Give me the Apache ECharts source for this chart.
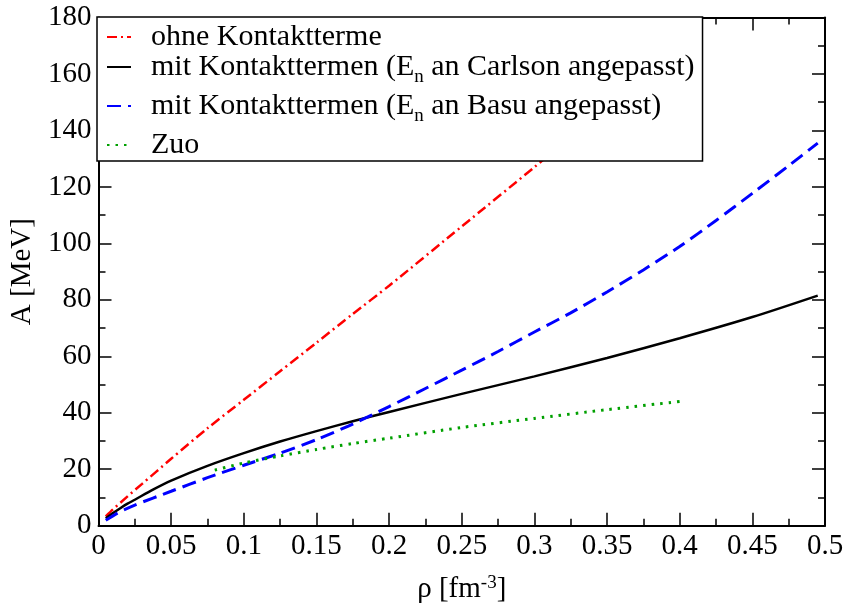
<!DOCTYPE html>
<html>
<head>
<meta charset="utf-8">
<script src="https://cdn.jsdelivr.net/npm/echarts@6/dist/echarts.min.js"></script>
<style>
  html, body { margin: 0; padding: 0; background: #ffffff; }
  #chart { width: 847px; height: 605px; }
</style>
</head>
<body>
<div id="chart"></div>
<script>
// Symmetry energy A versus density rho
const rhoOhne = [0.005, 0.01, 0.02, 0.03, 0.05, 0.075, 0.1, 0.125, 0.15, 0.175, 0.2, 0.25, 0.3, 0.35, 0.38];
const aOhne   = [3.3, 5.8, 10.4, 14.8, 23.7, 34.5, 44.6, 54.7, 64.8, 75.0, 85.0, 106.0, 127.0, 148.5, 161.5];

const rhoCarlson = [0.005, 0.01, 0.015, 0.02, 0.025, 0.0375, 0.05, 0.075, 0.1, 0.125, 0.15, 0.175, 0.2, 0.25, 0.3, 0.35, 0.4, 0.45, 0.495];
const aCarlson   = [2.6, 4.5, 6.2, 7.8, 9.2, 12.8, 16.0, 21.2, 25.7, 29.8, 33.5, 37.0, 40.3, 46.7, 52.9, 59.4, 66.4, 73.9, 81.5];

const rhoBasu = [0.005, 0.0125, 0.025, 0.05, 0.075, 0.1, 0.125, 0.15, 0.175, 0.2, 0.225, 0.25, 0.275, 0.3, 0.325, 0.35, 0.375, 0.4, 0.425, 0.45, 0.475, 0.495];
const aBasu   = [1.9, 4.3, 7.3, 12.2, 17.0, 21.4, 25.7, 30.5, 36.0, 42.2, 48.6, 55.1, 61.7, 68.6, 75.4, 82.8, 90.6, 98.9, 108.1, 117.7, 127.5, 135.5];

const rhoZuo = [0.08, 0.1, 0.125, 0.15, 0.175, 0.2, 0.25, 0.3, 0.35, 0.4];
const aZuo   = [19.7, 22.2, 24.7, 27.0, 29.1, 31.0, 34.8, 38.0, 41.1, 44.0];

const seriesNames = [
  'ohne Kontaktterme',
  'mit Kontakttermen (E_n an Carlson angepasst)',
  'mit Kontakttermen (E_n an Basu angepasst)',
  'Zuo'
];

const xTicks = { min: 0, max: 0.5, step: 0.05 };
const yTicks = { min: 0, max: 180, step: 20 };

const FONT = 'Liberation Serif';

function pairs(xs, ys) {
  return xs.map((x, i) => [x, ys[i]]);
}

// legend entries: "E_n" is rendered with a lowered subscript
function legendText(name) {
  const parts = name.split('_');
  if (parts.length === 1) return '{m|' + name + '}';
  const sub = parts[1].charAt(0);
  const rest = parts[1].slice(1);
  return '{m|' + parts[0] + '}{s|' + sub + '}{m|' + rest + '}';
}

const axisLineStyle = { color: '#000', width: 2 };

function mirrorX(position, showLabels) {
  return {
    type: 'value',
    position: position,
    min: xTicks.min,
    max: xTicks.max,
    interval: xTicks.step,
    axisLine: { show: true, onZero: false, lineStyle: axisLineStyle },
    axisTick: { show: true, inside: true, length: 13, lineStyle: { color: '#000', width: 1.5 } },
    minorTick: { show: true, splitNumber: 2, length: 7, lineStyle: { color: '#000', width: 1.5 } },
    splitLine: { show: false },
    minorSplitLine: { show: false },
    axisLabel: {
      show: showLabels,
      margin: 6,
      color: '#000',
      fontFamily: FONT,
      fontSize: 29,
      formatter: v => String(parseFloat(v.toFixed(2)))
    }
  };
}

function mirrorY(position, showLabels) {
  return {
    type: 'value',
    position: position,
    min: yTicks.min,
    max: yTicks.max,
    interval: yTicks.step,
    axisLine: { show: true, onZero: false, lineStyle: axisLineStyle },
    axisTick: { show: true, inside: true, length: 13, lineStyle: { color: '#000', width: 1.5 } },
    minorTick: { show: true, splitNumber: 2, length: 7, lineStyle: { color: '#000', width: 1.5 } },
    splitLine: { show: false },
    minorSplitLine: { show: false },
    axisLabel: {
      show: showLabels,
      margin: 7,
      color: '#000',
      fontFamily: FONT,
      fontSize: 29
    }
  };
}

const xBottom = mirrorX('bottom', true);
xBottom.name = '{a|ρ [fm}{s|-3}{a|]}';
xBottom.nameLocation = 'middle';
xBottom.nameGap = 49;
xBottom.nameTextStyle = {
  rich: {
    a: { fontFamily: FONT, fontSize: 29, color: '#000', lineHeight: 30 },
    s: { fontFamily: FONT, fontSize: 19, color: '#000', lineHeight: 19, padding: [0, 0, 14, 0] }
  }
};

const yLeft = mirrorY('left', true);
yLeft.name = 'A [MeV]';
yLeft.nameLocation = 'middle';
yLeft.nameRotate = 90;
yLeft.nameGap = 51;
yLeft.nameTextStyle = { fontFamily: FONT, fontSize: 29, color: '#000' };

const lineStyles = [
  { color: '#ff0000', width: 2.5, type: [10, 4, 2, 4] },
  { color: '#000000', width: 2.5, type: 'solid' },
  { color: '#0000ff', width: 3, type: [14, 7] },
  { color: '#00a000', width: 3, type: [2.5, 6] }
];

const dataSets = [
  pairs(rhoOhne, aOhne),
  pairs(rhoCarlson, aCarlson),
  pairs(rhoBasu, aBasu),
  pairs(rhoZuo, aZuo)
];

const option = {
  animation: false,
  backgroundColor: '#ffffff',
  grid: {
    left: 98.5, right: 22, top: 17.5, bottom: 79.3,
    containLabel: false,
    outerBoundsMode: 'none'
  },
  legend: {
    show: true,
    orient: 'vertical',
    left: 97,
    top: 17,
    z: 10,
    backgroundColor: '#ffffff',
    borderColor: '#000000',
    borderWidth: 1.5,
    borderRadius: 0,
    padding: [5, 8, 1, 9],
    itemGap: 0,
    itemWidth: 24,
    itemHeight: 12,
    data: seriesNames,
    formatter: legendText,
    itemStyle: { color: 'rgba(0,0,0,0)', borderWidth: 0, opacity: 0 },
    textStyle: {
      fontFamily: FONT,
      padding: [0, 0, 0, 15],
      rich: {
        m: { fontFamily: FONT, fontSize: 30, color: '#000', lineHeight: 30, verticalAlign: 'top' },
        s: { fontFamily: FONT, fontSize: 19, color: '#000', lineHeight: 18, padding: [16, 0, 4, 0], verticalAlign: 'top' }
      }
    },
    inactiveColor: '#000'
  },
  xAxis: [xBottom, mirrorX('top', false)],
  yAxis: [yLeft, mirrorY('right', false)],
  series: seriesNames.map((name, i) => ({
    name: name,
    type: 'line',
    xAxisIndex: 0,
    yAxisIndex: 0,
    data: dataSets[i],
    showSymbol: false,
    symbol: 'none',
    smooth: 0.25,
    clip: true,
    lineStyle: lineStyles[i],
    itemStyle: { color: lineStyles[i].color },
    z: 2
  }))
};

const chart = echarts.init(document.getElementById('chart'), null, { renderer: 'canvas' });
chart.setOption(option);
</script>
</body>
</html>
